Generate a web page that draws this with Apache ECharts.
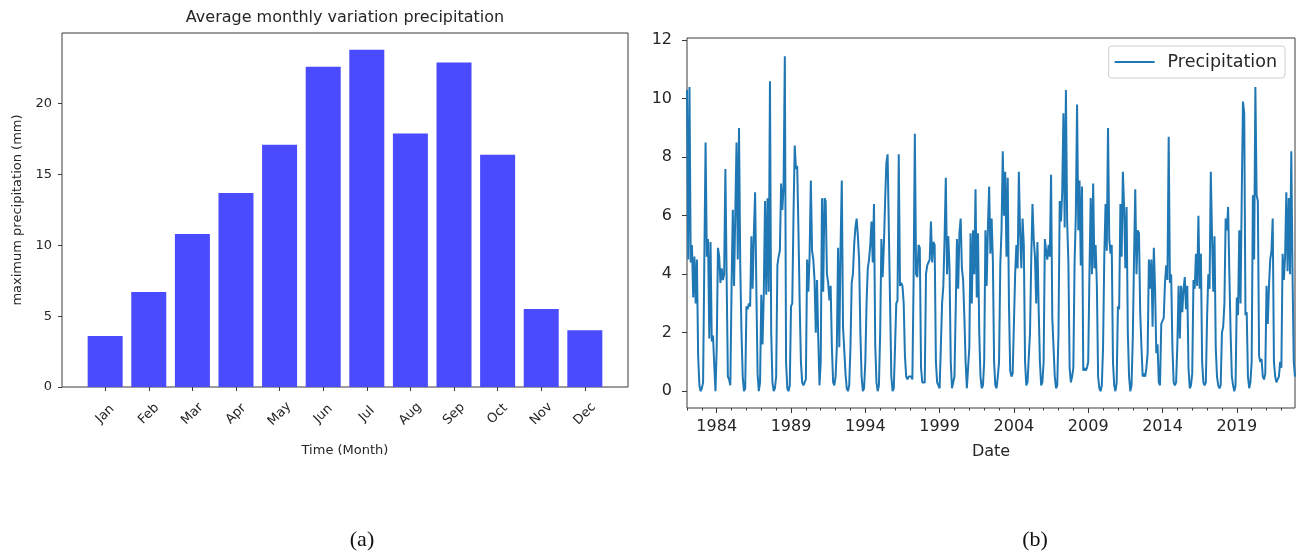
<!DOCTYPE html>
<html>
<head>
<meta charset="utf-8">
<script src="https://cdn.jsdelivr.net/npm/echarts@6/dist/echarts.min.js"></script>
<style>
html,body{margin:0;padding:0;background:#fff;}
#chart{width:1303px;height:557px;}
</style>
</head>
<body>
<div id="chart"></div>
<script>
// ---- Panel (a): average monthly maximum precipitation ----
const months = ['Jan','Feb','Mar','Apr','May','Jun','Jul','Aug','Sep','Oct','Nov','Dec'];
const monthlyMax = [3.6, 6.7, 10.8, 13.7, 17.1, 22.6, 23.8, 17.9, 22.9, 16.4, 5.5, 4.0];
const barTicks = [0, 5, 10, 15, 20];

// ---- Panel (b): monthly precipitation series, one row per year (Jan..Dec) ----
const startYear = 1982;
const precip1982_1991 = [
  [10.3, 4.5, 10.4, 4.4, 5.0, 3.2, 4.6, 3.0, 4.5, 1.2, 0.2, 0.0],
  [0.1, 0.3, 4.5, 8.5, 4.6, 5.2, 1.8, 5.1, 1.7, 1.9, 0.9, 0.0],
  [1.5, 4.9, 4.6, 3.7, 4.2, 3.8, 4.0, 7.6, 3.9, 0.5, 0.4, 0.2],
  [3.6, 6.2, 3.6, 6.1, 8.5, 4.5, 9.0, 4.3, 2.0, 0.5, 0.0, 0.1],
  [2.9, 2.8, 3.0, 2.9, 5.3, 3.5, 5.4, 6.8, 3.5, 0.6, 0.0, 0.3],
  [3.3, 1.6, 3.3, 6.5, 3.3, 6.6, 3.4, 10.6, 2.0, 0.3, 0.0, 0.1],
  [0.5, 4.3, 4.6, 4.8, 7.1, 6.2, 7.0, 11.45, 1.0, 0.1, 0.0, 0.2],
  [2.9, 3.0, 6.0, 8.4, 7.6, 7.7, 5.5, 3.0, 1.0, 0.3, 0.2, 0.3],
  [0.4, 4.5, 3.4, 4.6, 7.2, 4.8, 4.5, 3.8, 2.0, 3.8, 1.8, 0.2],
  [1.0, 6.6, 3.4, 6.6, 6.5, 4.0, 3.7, 3.1, 3.6, 1.5, 0.3, 0.2]
];
const precip1992_2001 = [
  [0.5, 1.5, 4.9, 1.5, 4.9, 7.2, 2.2, 1.4, 0.6, 0.1, 0.0, 0.2],
  [1.5, 3.7, 4.0, 5.0, 5.6, 5.9, 5.3, 4.5, 2.0, 0.5, 0.0, 0.1],
  [1.0, 3.0, 4.2, 4.5, 5.0, 5.8, 4.4, 6.4, 1.6, 0.3, 0.0, 0.2],
  [2.0, 5.2, 3.9, 5.0, 6.5, 7.8, 8.1, 8.1, 3.0, 0.5, 0.0, 0.1],
  [1.5, 3.0, 3.1, 8.1, 3.6, 3.7, 3.6, 3.0, 1.2, 0.5, 0.4, 0.5],
  [0.5, 0.5, 0.4, 3.8, 8.8, 4.0, 3.9, 5.0, 4.9, 0.8, 0.3, 0.3],
  [0.3, 4.0, 4.3, 4.4, 4.5, 5.8, 4.4, 5.1, 5.0, 1.0, 0.3, 0.2],
  [0.1, 1.5, 3.0, 3.6, 5.2, 7.3, 4.0, 5.3, 4.2, 1.0, 0.1, 0.1],
  [0.5, 2.8, 5.2, 3.5, 5.4, 5.9, 4.2, 3.8, 2.5, 1.0, 0.1, 0.1],
  [1.5, 5.4, 3.0, 5.5, 4.0, 6.9, 3.2, 5.4, 2.0, 0.5, 0.1, 0.2]
];
const precip2002_2011 = [
  [1.0, 5.5, 3.6, 5.6, 7.0, 4.7, 5.9, 4.5, 1.0, 0.2, 0.1, 0.5],
  [1.0, 4.3, 5.5, 8.2, 6.0, 7.5, 4.6, 7.3, 3.0, 0.7, 0.5, 0.6],
  [0.6, 4.0, 5.0, 4.2, 7.5, 5.4, 4.2, 5.9, 5.0, 1.0, 0.2, 0.3],
  [0.3, 2.0, 4.5, 6.4, 5.2, 4.6, 3.0, 5.1, 2.8, 1.0, 0.2, 0.3],
  [1.0, 5.2, 4.8, 4.5, 5.0, 4.6, 7.4, 2.5, 1.5, 0.5, 0.1, 0.2],
  [2.0, 6.5, 5.8, 6.8, 9.5, 5.6, 10.3, 5.8, 4.4, 0.8, 0.3, 0.5],
  [0.8, 4.4, 6.0, 9.8, 5.5, 7.2, 4.3, 7.0, 0.7, 0.8, 0.7, 0.8],
  [1.0, 4.0, 6.6, 4.0, 7.1, 4.2, 5.0, 3.6, 0.5, 0.1, 0.0, 0.2],
  [1.5, 4.6, 6.4, 4.8, 9.0, 5.2, 4.7, 5.0, 1.0, 0.2, 0.0, 0.3],
  [2.9, 2.8, 6.4, 4.6, 7.5, 6.3, 4.2, 6.3, 2.0, 0.5, 0.0, 0.2]
];
const precip2012_2022 = [
  [1.8, 4.5, 6.9, 4.0, 5.5, 5.4, 2.7, 1.5, 0.5, 0.6, 0.5, 0.8],
  [1.3, 4.5, 3.5, 4.5, 2.2, 4.9, 3.5, 1.3, 1.6, 0.3, 0.2, 2.3],
  [2.4, 2.5, 3.7, 4.3, 3.8, 8.7, 3.7, 4.0, 1.5, 0.3, 0.2, 0.3],
  [1.6, 3.6, 1.8, 3.6, 2.7, 3.5, 3.9, 2.8, 3.6, 0.8, 0.1, 0.2],
  [0.6, 3.8, 3.5, 4.7, 3.6, 6.0, 3.5, 4.7, 1.0, 0.3, 0.2, 0.3],
  [2.5, 4.0, 3.5, 7.5, 5.3, 3.4, 5.3, 1.5, 0.5, 0.2, 0.1, 0.2],
  [2.0, 2.2, 3.0, 5.9, 5.5, 6.3, 4.0, 2.0, 0.5, 0.2, 0.0, 0.2],
  [3.2, 2.6, 5.5, 3.0, 6.7, 9.9, 9.5, 2.6, 2.7, 0.5, 0.1, 0.3],
  [1.0, 6.7, 4.5, 10.4, 6.7, 6.5, 1.2, 1.0, 1.1, 0.5, 0.4, 0.6],
  [3.6, 2.3, 3.6, 4.5, 4.8, 5.9, 1.0, 0.5, 0.3, 0.4, 0.5, 1.0],
  [0.8, 4.7, 3.8, 4.6, 6.8, 4.1, 6.6, 4.0, 8.2, 4.0, 1.0, 0.5]
];
const yearLabels = [1984, 1989, 1994, 1999, 2004, 2009, 2014, 2019];
const lineTicks = [0, 2, 4, 6, 8, 10, 12];

// ---- build ----
const years = [].concat(precip1982_1991, precip1992_2001, precip2002_2011, precip2012_2022);
const series = [];
years.forEach((row, yi) => row.forEach((v, mi) => series.push([startYear + yi + mi / 12, v])));
const endX = startYear + years.length - 1 + 11 / 12;
const yearMinor = [];
for (let y = startYear; y <= startYear + years.length - 1; y++) yearMinor.push(y);

const FONT = 'DejaVu Sans';
const TXT = '#262626';
const AX = '#3a3a3a';
const noLine = {show: false, onZero: false};

const chart = echarts.init(document.getElementById('chart'), null, {renderer: 'canvas'});
chart.setOption({
  animation: false,
  backgroundColor: '#fff',
  textStyle: {fontFamily: FONT},
  grid: [
    {left: 62, top: 33, width: 566, height: 354, show: true, borderColor: AX, borderWidth: 1, backgroundColor: 'transparent'},
    {left: 687, top: 38, width: 608, height: 370, show: true, borderColor: AX, borderWidth: 1, backgroundColor: 'transparent'}
  ],
  legend: {
    data: ['Precipitation'],
    right: 18, top: 46,
    icon: 'rect',
    padding: [7, 8, 7, 6],
    borderColor: '#d0d0d0', borderWidth: 1, borderRadius: 3,
    backgroundColor: 'rgba(255,255,255,0.85)',
    itemWidth: 40, itemHeight: 2,
    textStyle: {fontFamily: FONT, fontSize: 17.5, color: TXT, padding: [0, 0, 0, 8]}
  },
  xAxis: [
    {
      gridIndex: 0, type: 'value', min: -0.99, max: 11.99, position: 'bottom',
      axisLine: noLine, splitLine: {show: false},
      axisTick: {show: true, length: 4, lineStyle: {color: AX}, customValues: months.map((m, i) => i)},
      axisLabel: {
        customValues: months.map((m, i) => i),
        formatter: v => months[Math.round(v)],
        rotate: 45, align: 'center', verticalAlign: 'middle', margin: 27,
        fontFamily: FONT, fontSize: 13, color: TXT
      },
      name: 'Time (Month)', nameLocation: 'middle', nameGap: 57,
      nameTextStyle: {fontFamily: FONT, fontSize: 13, color: TXT}
    },
    {
      gridIndex: 1, type: 'value', min: startYear, max: endX, position: 'bottom',
      axisLine: noLine, splitLine: {show: false},
      axisTick: {show: true, length: 5, lineStyle: {color: AX}, customValues: yearLabels},
      axisLabel: {
        customValues: yearLabels, formatter: v => String(Math.round(v)),
        margin: 11, fontFamily: FONT, fontSize: 16, color: TXT
      },
      name: 'Date', nameLocation: 'middle', nameGap: 36,
      nameTextStyle: {fontFamily: FONT, fontSize: 16, color: TXT}
    },
    {
      gridIndex: 1, type: 'value', min: startYear, max: endX, position: 'bottom', offset: 0,
      axisLine: noLine, splitLine: {show: false},
      axisTick: {show: true, length: 2.5, lineStyle: {color: AX}, customValues: yearMinor},
      axisLabel: {show: false}
    }
  ],
  yAxis: [
    {
      gridIndex: 0, type: 'value', min: 0, max: 24.99, position: 'left',
      axisLine: noLine, splitLine: {show: false},
      axisTick: {show: true, length: 4, lineStyle: {color: AX}, customValues: barTicks},
      axisLabel: {customValues: barTicks, margin: 10, fontFamily: FONT, fontSize: 13, color: TXT},
      name: 'maximum precipitation (mm)', nameLocation: 'middle', nameGap: 38, nameRotate: 90,
      nameTextStyle: {fontFamily: FONT, fontSize: 13, color: TXT}
    },
    {
      gridIndex: 1, type: 'value', min: -0.575, max: 12.075, position: 'left',
      axisLine: noLine, splitLine: {show: false},
      axisTick: {show: true, length: 5, lineStyle: {color: AX}, customValues: lineTicks},
      axisLabel: {customValues: lineTicks, margin: 15, fontFamily: FONT, fontSize: 16, color: TXT}
    }
  ],
  series: [
    {
      type: 'bar', xAxisIndex: 0, yAxisIndex: 0,
      data: monthlyMax.map((v, i) => [i, v]),
      barWidth: 35,
      itemStyle: {color: '#4a4aff'}
    },
    {
      name: 'Precipitation', type: 'line', xAxisIndex: 1, yAxisIndex: 1,
      data: series, symbol: 'none', showSymbol: false,
      lineStyle: {color: '#1f77b4', width: 2},
      itemStyle: {color: '#1f77b4'}
    }
  ],
  graphic: [
    {type: 'text', x: 345, y: 18, style: {text: 'Average monthly variation precipitation', font: '16px "DejaVu Sans"', fill: TXT, align: 'center', verticalAlign: 'middle'}},
    {type: 'text', x: 362, y: 540, style: {text: '(a)', font: '22px "Liberation Serif"', fill: '#111', align: 'center', verticalAlign: 'middle'}},
    {type: 'text', x: 1035, y: 540, style: {text: '(b)', font: '22px "Liberation Serif"', fill: '#111', align: 'center', verticalAlign: 'middle'}}
  ]
});
</script>
</body>
</html>
